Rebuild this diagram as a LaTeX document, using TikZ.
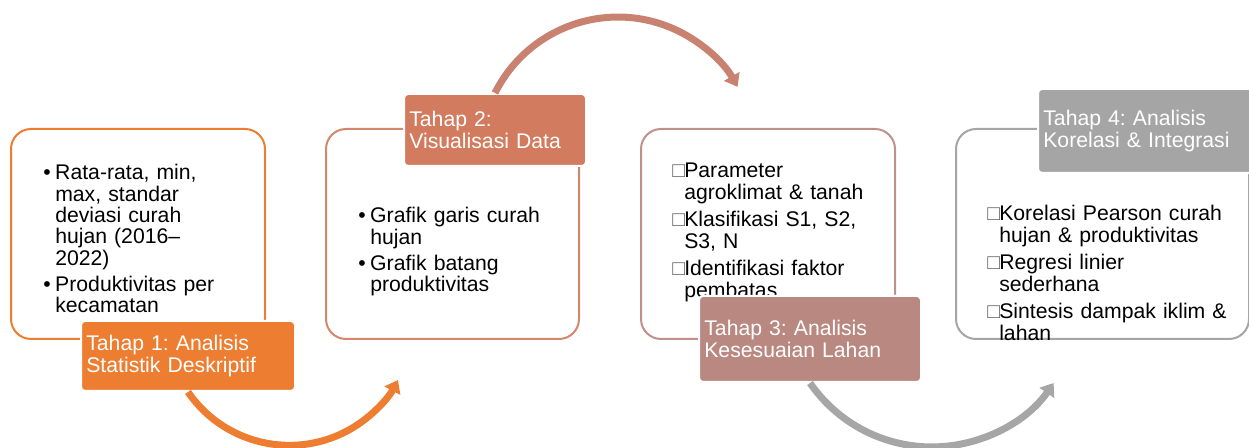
\documentclass[tikz,border=0pt]{standalone}
\usepackage{fontspec}
\setmainfont{Liberation Sans}
\usetikzlibrary{arrows.meta}

\definecolor{stageA}{HTML}{ED7D31}
\definecolor{stageB}{HTML}{D37B5E}
\definecolor{stageBline}{HTML}{D4876A}
\definecolor{stageC}{HTML}{B98880}
\definecolor{stageCline}{HTML}{BF918A}
\definecolor{stageD}{HTML}{A5A5A5}
\definecolor{arrowB}{HTML}{C8826F}
\definecolor{arrowC}{HTML}{A6A6A6}

\frenchspacing
\newcommand{\bul}{\leavevmode\llap{\makebox[9pt][l]{•}}}
\newcommand{\sqr}{\leavevmode\llap{\makebox[9pt][l]{\textcolor{black!60}{□}}}}

\begin{document}
\begin{tikzpicture}[x=0.75pt,y=0.75pt,yscale=-1,xscale=1,
  frame/.style={rectangle, rounded corners=15pt, line width=1.5pt, fill=white, anchor=north west, minimum height=157.5pt, inner sep=0pt},
  stage/.style={rectangle, rounded corners=3pt, draw=white, line width=1.5pt, text=white, anchor=north west, align=left, inner xsep=4pt, font=\fontsize{15.9pt}{16pt}\selectfont\frenchspacing},
  body/.style={anchor=base west, inner sep=0pt, text width=220pt, align=left, font=\fontsize{15.9pt}{#1}\selectfont\frenchspacing},
  body/.default=16.5pt,
  flow/.style={line width=5.25pt, -{Triangle[length=9pt,width=13pt]}}
]
\clip (0,0) rectangle (1249,448);

%Rounded Rect [box 1]
\node (box1) [frame, draw=stageA, minimum width=190.5pt] at (10,128) {};
%Rounded Rect [box 2]
\node (box2) [frame, draw=stageBline, minimum width=189.75pt] at (325,128) {};
%Rounded Rect [box 3]
\node (box3) [frame, draw=stageCline, minimum width=190.5pt] at (640,128) {};
%Rounded Rect [box 4]
\node (box4) [frame, draw=stageD, minimum width=219.75pt] at (955,128) {};

% Text Node
\node (txt1) [body=16pt] at (43,180) {\leftskip=9pt
\bul Rata-rata, min,\\ max, standar\\ deviasi curah\\ hujan (2016–\\ 2022)\\[3.5pt]
\bul Produktivitas per\\ kecamatan\par};
% Text Node
\node (txt2) [body=16pt] at (358,223) {\leftskip=9pt
\bul Grafik garis curah\\ hujan\\[3.5pt]
\bul Grafik batang\\ produktivitas\par};
% Text Node
\node (txt3) [body] at (672,178) {\leftskip=9pt
\sqr Parameter\\ agroklimat \& tanah\\[3.5pt]
\sqr Klasifikasi S1, S2,\\ S3, N\\[3.5pt]
\sqr Identifikasi faktor\\ pembatas\par};
% Text Node
\node (txt4) [body] at (987,221) {\leftskip=9pt
\sqr Korelasi Pearson curah\\ hujan \& produktivitas\\[3.5pt]
\sqr Regresi linier\\ sederhana\\[3.5pt]
\sqr Sintesis dampak iklim \&\\ lahan\par};

%Rounded Rect [label 1]
\node (lab1) [stage, fill=stageA, minimum width=160.5pt, minimum height=52.5pt, text width=152.5pt] at (80,320) {Tahap 1: Analisis\\Statistik Deskriptif};
%Rounded Rect [label 2]
\node (lab2) [stage, fill=stageB, minimum width=136.5pt, minimum height=54pt, text width=128.5pt] at (403,93) {Tahap 2:\\Visualisasi Data};
%Rounded Rect [label 3]
\node (lab3) [stage, fill=stageC, minimum width=166.5pt, minimum height=64.5pt, text width=158.5pt] at (698,295) {Tahap 3: Analisis\\Kesesuaian Lahan};
%Rounded Rect [label 4]
\node (lab4) [stage, fill=stageD, minimum width=163.5pt, minimum height=63pt, text width=155.5pt] at (1037,88) {Tahap 4: Analisis\\Korelasi \& Integrasi};

%Curve Lines [arrow 1]
\draw [flow, draw=stageA] (lab1.south) arc[start angle=145.5, end angle=28, radius=123];
%Curve Lines [arrow 2]
\draw [flow, draw=arrowB] (lab2.north) arc[start angle=206.6, end angle=330.5, radius=137.5];
%Curve Lines [arrow 3]
\draw [flow, draw=arrowC] (lab3.south) arc[start angle=145.4, end angle=34.6, radius=148];

\end{tikzpicture}
\end{document}
